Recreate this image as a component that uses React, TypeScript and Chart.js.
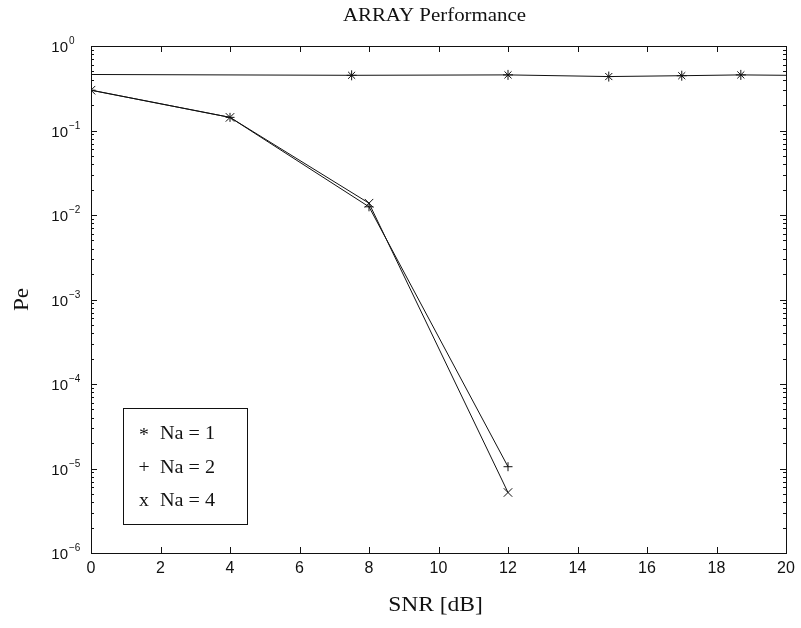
import React, { useEffect, useRef } from "react";
import { Chart, registerables } from "chart.js";

Chart.register(...registerables);

// ---- data ----
const snrNa1 = [0, 7.5, 12, 14.9, 17, 18.7, 20];
const peNa1 = [0.46, 0.45, 0.455, 0.435, 0.445, 0.455, 0.45];
const markerNa1 = [false, true, true, true, true, true, false];

const snrNa2 = [0, 4, 8, 12];
const peNa2 = [0.3, 0.143, 0.0125, 1.05e-5];

const snrNa4 = [0, 4, 8, 12];
const peNa4 = [0.3, 0.143, 0.0138, 5.2e-6];

const xTickValues = [0, 2, 4, 6, 8, 10, 12, 14, 16, 18, 20];
const yDecades = [0, -1, -2, -3, -4, -5, -6];
const seriesLabels = ["Na = 1", "Na = 2", "Na = 4"];
const legendSymbols = ["*", "+", "x"];
const titleText = "ARRAY Performance";
const xTitleText = "SNR [dB]";
const yTitleText = "Pe";

const SERIF = "'Liberation Serif', 'Times New Roman', serif";
const SANS = "'Liberation Sans', Arial, sans-serif";
const INK = "#111";

function stretchedText(ctx: CanvasRenderingContext2D, text: string, x: number, y: number, sx: number, align: CanvasTextAlign, rot = 0) {
  ctx.save();
  ctx.translate(x, y);
  if (rot) ctx.rotate(rot);
  ctx.scale(sx, 1);
  ctx.textAlign = align;
  ctx.fillText(text, 0, 0);
  ctx.restore();
}

const decorPlugin = {
  id: "matlabDecor",
  beforeDraw(chart: any) {
    const ctx = chart.ctx as CanvasRenderingContext2D;
    ctx.save();
    ctx.fillStyle = "#fff";
    ctx.fillRect(0, 0, chart.width, chart.height);
    ctx.restore();
  },
  afterDraw(chart: any) {
    const ctx = chart.ctx as CanvasRenderingContext2D;
    const a = chart.chartArea;
    const xs = chart.scales.x;
    const ys = chart.scales.y;
    ctx.save();
    ctx.strokeStyle = INK;
    ctx.fillStyle = INK;
    ctx.lineWidth = 1;

    // box
    ctx.strokeRect(Math.round(a.left) + 0.5, Math.round(a.top) + 0.5, Math.round(a.right - a.left), Math.round(a.bottom - a.top));

    // x ticks (inward, bottom and top)
    ctx.beginPath();
    for (const v of xTickValues) {
      const px = Math.round(xs.getPixelForValue(v)) + 0.5;
      ctx.moveTo(px, a.bottom);
      ctx.lineTo(px, a.bottom - 6);
      ctx.moveTo(px, a.top);
      ctx.lineTo(px, a.top + 6);
    }
    // y ticks: major + minor (log)
    for (const d of yDecades) {
      const py = Math.round(ys.getPixelForValue(Math.pow(10, d))) + 0.5;
      ctx.moveTo(a.left, py);
      ctx.lineTo(a.left + 6, py);
      ctx.moveTo(a.right, py);
      ctx.lineTo(a.right - 6, py);
      if (d < 0) {
        for (let k = 2; k <= 9; k++) {
          const pm = Math.round(ys.getPixelForValue(k * Math.pow(10, d))) + 0.5;
          ctx.moveTo(a.left, pm);
          ctx.lineTo(a.left + 3, pm);
          ctx.moveTo(a.right, pm);
          ctx.lineTo(a.right - 3, pm);
        }
      }
    }
    ctx.stroke();

    // x tick labels
    ctx.font = `16px ${SANS}`;
    ctx.textBaseline = "top";
    for (const v of xTickValues) {
      const px = xs.getPixelForValue(v);
      stretchedText(ctx, String(v), px, a.bottom + 8, 1, "center");
    }

    // y tick labels 10^d
    for (const d of yDecades) {
      const py = ys.getPixelForValue(Math.pow(10, d));
      ctx.font = `15px ${SANS}`;
      ctx.textBaseline = "middle";
      ctx.textAlign = "right";
      const baseRight = a.left - 23;
      ctx.fillText("10", baseRight, py + 2);
      ctx.font = `10px ${SANS}`;
      ctx.textBaseline = "alphabetic";
      ctx.textAlign = "left";
      ctx.fillText(d === 0 ? "0" : "\u2212" + String(-d), baseRight + 1, py - 2);
    }

    // titles
    ctx.textBaseline = "middle";
    ctx.font = `19px ${SERIF}`;
    stretchedText(ctx, titleText, (a.left + a.right) / 2 - 4, 16, 1.1, "center");
    ctx.font = `21px ${SERIF}`;
    stretchedText(ctx, xTitleText, (a.left + a.right) / 2 - 3, 605, 1.12, "center");
    ctx.font = `21px ${SERIF}`;
    stretchedText(ctx, yTitleText, 22, (a.top + a.bottom) / 2, 1.1, "center", -Math.PI / 2);

    // legend box
    const lx = a.left + 32;
    const lt = a.bottom - 145;
    const lw = 124;
    const lh = 116;
    ctx.fillStyle = "#fff";
    ctx.fillRect(lx, lt, lw, lh);
    ctx.strokeRect(Math.round(lx) + 0.5, Math.round(lt) + 0.5, lw, lh);
    ctx.fillStyle = INK;
    ctx.font = `18px ${SERIF}`;
    ctx.textBaseline = "middle";
    const rows = [26, 60, 93];
    chart.data.datasets.forEach((ds: any, i: number) => {
      const ry = lt + rows[i];
      const sym = legendSymbols[i];
      stretchedText(ctx, sym, lx + 21, ry + (sym === "*" ? 2 : 0), 1.1, "center");
      stretchedText(ctx, ds.label, lx + 37, ry, 1.12, "left");
    });
    ctx.restore();
  },
};

export default function App() {
  const ref = useRef<HTMLCanvasElement | null>(null);

  useEffect(() => {
    if (!ref.current) return;
    const toPts = (xs: number[], ys: number[]) => xs.map((x, i) => ({ x, y: ys[i] }));
    const chart = new Chart(ref.current, {
      type: "line",
      data: {
        datasets: [
          {
            label: seriesLabels[0],
            data: toPts(snrNa1, peNa1),
            borderColor: INK,
            borderWidth: 1,
            pointStyle: "star",
            pointRadius: markerNa1.map((m) => (m ? 5 : 0)),
            pointBorderColor: INK,
            pointBorderWidth: 1,
            fill: false,
            tension: 0,
          },
          {
            label: seriesLabels[1],
            data: toPts(snrNa2, peNa2),
            borderColor: INK,
            borderWidth: 1,
            pointStyle: "cross",
            pointRadius: 4.5,
            pointBorderColor: INK,
            pointBorderWidth: 1,
            fill: false,
            tension: 0,
          },
          {
            label: seriesLabels[2],
            data: toPts(snrNa4, peNa4),
            borderColor: INK,
            borderWidth: 1,
            pointStyle: "crossRot",
            pointRadius: 6,
            pointBorderColor: INK,
            pointBorderWidth: 1,
            fill: false,
            tension: 0,
          },
        ],
      },
      options: {
        responsive: false,
        animation: false,
        events: [],
        layout: { padding: { left: 0, top: 46, right: 15, bottom: 0 } },
        plugins: {
          legend: { display: false },
          tooltip: { enabled: false },
          title: { display: false },
        },
        scales: {
          x: {
            type: "linear",
            min: 0,
            max: 20,
            ticks: { display: false, stepSize: 2 },
            grid: { display: false },
            border: { display: false },
            afterFit: (s: any) => {
              s.height = 75;
            },
          },
          y: {
            type: "logarithmic",
            min: 1e-6,
            max: 1,
            ticks: { display: false },
            grid: { display: false },
            border: { display: false },
            afterFit: (s: any) => {
              s.width = 91;
            },
          },
        },
      },
      plugins: [decorPlugin],
    });
    return () => chart.destroy();
  }, []);

  return (
    <div style={{ position: "absolute", left: 0, top: 0, width: 801, height: 628, background: "#fff" }}>
      <canvas ref={ref} width={801} height={628} style={{ display: "block" }} />
    </div>
  );
}
